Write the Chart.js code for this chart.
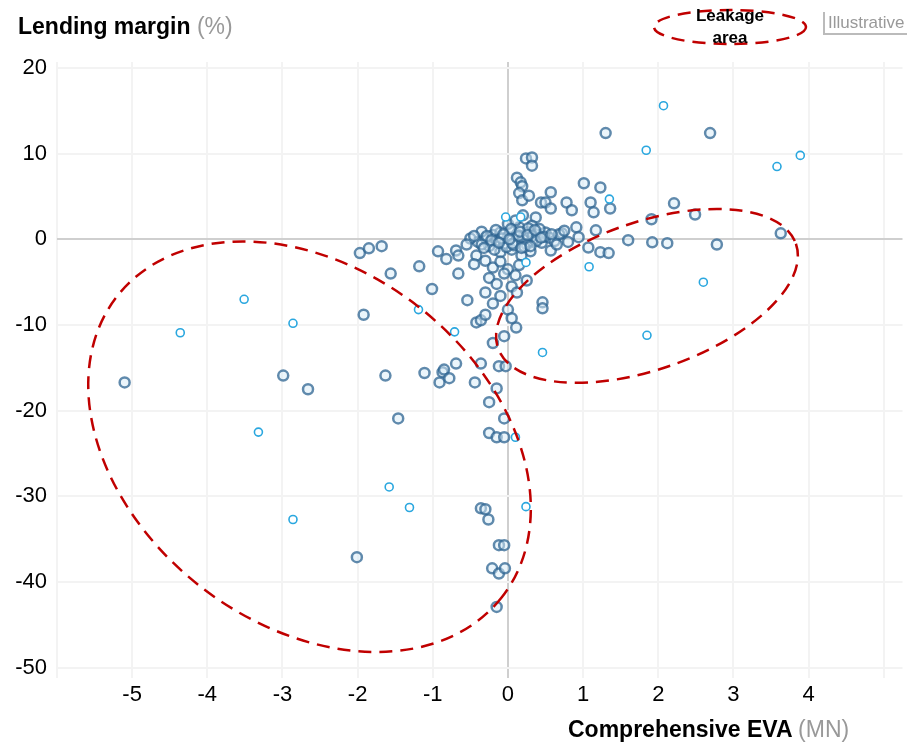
<!DOCTYPE html>
<html>
<head>
<meta charset="utf-8">
<script src="https://cdn.jsdelivr.net/npm/chart.js@4.4.1/dist/chart.umd.min.js"></script>
<style>
body{margin:0;background:#fff;font-family:"Liberation Sans",Arial,sans-serif;}
#wrap{position:relative;width:910px;height:742px;}
#chart{position:absolute;left:0;top:0;}
.ttl{position:absolute;font-size:23px;font-weight:bold;color:#000;white-space:nowrap;}
.ttl span{font-weight:normal;color:#999;}
#leg{position:absolute;left:652px;top:5px;width:156px;text-align:center;font-size:17px;font-weight:bold;line-height:22px;}
#illu{position:absolute;left:823px;top:12px;width:84px;height:23px;border-left:2px solid #bbb;border-bottom:2px solid #bbb;color:#999;font-size:17px;line-height:21px;padding-left:3px;box-sizing:border-box;white-space:nowrap;overflow:hidden;}
</style>
</head>
<body>
<div id="wrap">
<canvas id="chart" width="910" height="742"></canvas>
<div class="ttl" style="left:18px;top:13px;">Lending margin <span>(%)</span></div>
<div class="ttl" style="left:568px;top:716px;">Comprehensive EVA <span>(MN)</span></div>
<div id="leg">Leakage<br>area</div>
<div id="illu">Illustrative</div>
</div>
<script>

// DATA (x = comprehensive EVA, y = lending margin)

const bookedX = [-5.10,-2.99,-2.66,-1.92,-1.63,-1.46,-2.01,-1.97,-1.85,-1.68,-1.56,-1.18,-0.93,-0.82,-0.69,-0.66,-0.66,-1.01,-0.54,-0.42,-0.45,-0.42,-0.36,
0.11,-0.05,-0.20,-0.69,-0.36,-0.12,-0.03,-1.11,-0.87,-0.85,-0.91,-0.78,-0.44,-0.15,-0.25,-0.05,-0.25,-0.15,-0.05,-0.36,-0.26,-0.12,-0.05,-0.21,-0.12,-0.04,-0.15,-0.30,
0.46,0.46,0.24,0.32,0.32,0.12,0.17,0.19,0.15,0.19,0.28,0.57,0.44,0.50,0.57,0.78,0.85,1.01,1.23,1.10,1.14,1.36,0.37,0.91,1.17,0.57,1.07,1.23,1.60,0.72,0.94,
1.30,2.69,2.21,1.91,2.49,1.92,2.12,2.78,3.63,1.34,
-0.40,-0.30,-0.25,-0.20,-0.15,-0.10,-0.05,0.00,0.05,0.10,0.12,0.15,0.20,0.25,0.28,0.32,0.35,0.40,0.45,0.50,0.55,0.62,0.68,0.75,0.80,0.05,-0.10,0.00,0.10,0.20,-0.35,-0.50,-0.55,0.30,0.18,
-0.30,-0.20,-0.10,0.00,0.10,-0.25,-0.15,0.05,-0.30,-0.10,0.12,-0.20,0.00,-0.30,0.05,0.15,0.25,-0.05,
-0.35,-0.28,-0.22,-0.16,-0.08,-0.02,0.04,0.08,0.14,0.22,0.27,0.33,0.38,0.42,0.48,-0.32,-0.18,-0.06,0.06,0.18,0.30,0.44,-0.12,0.02,0.16,0.26,0.36,-0.45,0.58,0.65];
const bookedY = [-16.7,-15.9,-17.5,-8.8,-15.9,-20.9,-37.1,-1.6,-1.05,-0.8,-4.0,-3.15,-1.4,-2.3,-1.3,-1.9,-4.0,-5.8,-7.1,-1.9,-2.9,-9.7,-9.45,
-10.3,-11.3,-12.1,-14.5,-14.5,-14.8,-14.8,-15.6,-15.5,-15.2,-16.7,-16.2,-16.7,-17.4,-19.0,-20.9,-22.6,-23.1,-23.1,-31.4,-32.7,-35.7,-35.7,-38.4,-39.0,-38.4,-42.9,-31.5,
-7.35,-8.05,9.45,9.55,8.6,7.2,6.65,6.2,5.4,4.55,5.1,5.5,4.3,4.3,3.6,4.3,3.4,6.55,6.05,4.3,3.15,3.6,2.55,1.4,1.05,-1.3,-0.95,-1.5,-0.1,0.7,0.25,
12.4,12.4,4.2,2.35,2.9,-0.35,-0.45,-0.6,0.7,-1.6,
-0.3,0.2,-0.8,0.5,-0.2,0.8,-0.5,0.3,1.0,-0.3,0.6,1.4,0.2,-0.6,0.9,1.6,0.0,0.5,-0.4,0.8,0.2,-0.2,0.6,1.0,-0.3,-1.2,-1.5,1.8,2.2,2.8,0.9,0.1,-0.6,-1.4,-1.9,
-2.5,-3.3,-2.6,-3.5,-4.2,-4.5,-5.2,-5.5,-6.2,-6.6,-6.2,-7.5,-8.2,-8.8,-9.2,-3.0,-4.8,-4.0,
-0.6,0.4,-0.1,1.1,0.1,-0.9,1.2,-0.7,0.4,-0.9,1.3,0.4,-0.2,1.2,0.3,-1.0,-1.2,0.6,-0.5,-1.0,-0.8,0.2,-0.4,0.0,0.9,0.5,1.1,0.4,0.6,-0.6];

const leakX = [2.07,1.84,3.58,3.89,-0.03,0.17,0.24,1.08,1.35,2.60,1.85,0.46,-0.71,-1.19,-3.51,-4.36,-2.86,-3.32,-2.86,-1.58,-1.31,0.10,0.24];
const leakY = [15.6,10.4,8.5,9.8,2.6,2.6,-2.7,-3.2,4.7,-5.0,-11.2,-13.2,-10.8,-8.2,-7.0,-10.9,-9.8,-22.5,-32.7,-28.9,-31.3,-23.1,-31.2];

const xTicks = [-5,-4,-3,-2,-1,0,1,2,3,4];
const yTicks = [-50,-40,-30,-20,-10,0,10,20];

// leakage areas: centre in data units, radii in x-axis units, tilt in degrees
const areas = [
  {cx:-2.64, cy:-24.2, a:3.25, b:2.36, tilt:38},
  {cx:1.85, cy:-6.6, a:2.10, b:0.98, tilt:-19.3}
];

function toPoints(xs, ys){
  return xs.map((x,i)=>({x:x, y:ys[i]}));
}

const areaPlugin = {
  id:"areas",
  afterDatasetsDraw(chart){
    const c = chart.ctx;
    const sx = chart.scales.x, sy = chart.scales.y;
    const unit = sx.getPixelForValue(1) - sx.getPixelForValue(0);
    c.save();
    c.strokeStyle = "#c00000";
    c.lineWidth = 2.5;
    c.setLineDash([13,8]);
    areas.forEach(e=>{
      c.beginPath();
      c.ellipse(sx.getPixelForValue(e.cx), sy.getPixelForValue(e.cy), e.a*unit, e.b*unit, e.tilt*Math.PI/180, 0, Math.PI*2);
      c.stroke();
    });
    // legend ellipse
    c.beginPath();
    c.ellipse(730, 27, 76, 17, 0, 0, Math.PI*2);
    c.stroke();
    c.restore();
  }
};

const gridColor = (ctx)=> ctx.tick && ctx.tick.value === 0 ? "#cfcfcf" : "#f3f3f3";
const gridWidth = (ctx)=> ctx.tick && ctx.tick.value === 0 ? 2 : 2;

new Chart(document.getElementById("chart"),{
  type:"scatter",
  data:{
    datasets:[
      {
        label:"Leakage",
        data:toPoints(leakX, leakY),
        pointRadius:4,
        pointBorderWidth:1.6,
        borderColor:"#2aa7df",
        backgroundColor:"#ffffff"
      },
      {
        label:"Booked",
        data:toPoints(bookedX, bookedY),
        pointRadius:5,
        pointBorderWidth:2.5,
        borderColor:"rgba(45,100,145,0.75)",
        backgroundColor:"rgba(215,235,248,0.5)"
      }
    ]
  },
  options:{
    responsive:false,
    animation:false,
    layout:{padding:{top:62,right:5,left:0,bottom:0}},
    plugins:{legend:{display:false},tooltip:{enabled:false}},
    scales:{
      x:{
        type:"linear",
        min:-6, max:5.25,
        afterFit:(s)=>{ s.height = 64; },
        afterBuildTicks:(s)=>{ s.ticks = [-6].concat(xTicks,[5]).map(v=>({value:v})); },
        ticks:{
          padding:4,
          color:"#000",
          font:{family:"Liberation Sans", size:22},
          callback:(v)=> xTicks.includes(v) ? String(v) : ""
        },
        grid:{color:gridColor, lineWidth:gridWidth, drawTicks:false},
        border:{display:false}
      },
      y:{
        type:"linear",
        min:-51.2, max:20.7,
        afterFit:(s)=>{ s.width = 57; },
        afterBuildTicks:(s)=>{ s.ticks = yTicks.map(v=>({value:v})); },
        ticks:{
          padding:10,
          color:"#000",
          font:{family:"Liberation Sans", size:22},
          callback:(v)=> String(v)
        },
        grid:{color:gridColor, lineWidth:gridWidth, drawTicks:false},
        border:{display:false}
      }
    }
  },
  plugins:[areaPlugin]
});

</script>
</body>
</html>
